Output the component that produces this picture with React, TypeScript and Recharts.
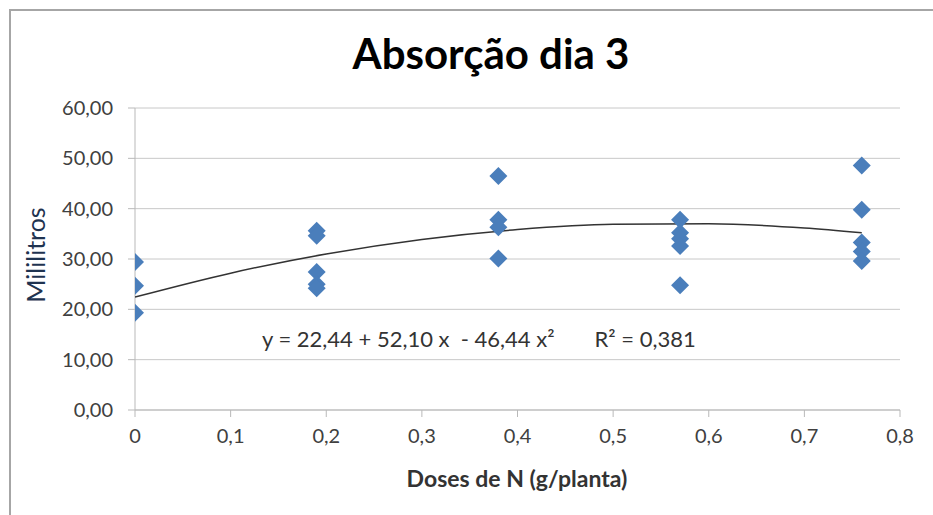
import React from "react";
import { ScatterChart, Scatter, XAxis, YAxis, CartesianGrid } from "recharts";

// Observações (dose de N em g/planta, absorção em mL)
const DOSES = [0, 0.19, 0.38, 0.57, 0.76];
const ABS_0 = [29.4, 24.7, 19.3];
const ABS_019 = [35.6, 34.6, 27.4, 25.0, 24.2];
const ABS_038 = [46.5, 37.8, 36.3, 30.1];
const ABS_057 = [37.8, 35.2, 34.0, 32.6, 24.8];
const ABS_076 = [48.6, 39.8, 33.3, 31.5, 29.6];

// linha de tendência
const TREND_X = [0, 0.1, 0.2, 0.3, 0.4, 0.5, 0.6, 0.7, 0.76];
const TREND_Y = [22.44, 27.19, 31.0, 33.89, 35.85, 36.88, 36.98, 36.15, 35.21];

const X_TICKS = [0, 0.1, 0.2, 0.3, 0.4, 0.5, 0.6, 0.7, 0.8];
const Y_TICKS = [0, 10, 20, 30, 40, 50, 60];

const EQUATION = "y = 22,44 + 52,10 x  - 46,44 x²";
const R2 = "R² = 0,381";

const points = [ABS_0, ABS_019, ABS_038, ABS_057, ABS_076].flatMap((vals, i) =>
  vals.map((v) => ({ x: DOSES[i], y: v }))
);
const trend = TREND_X.map((x, i) => ({ x, y: TREND_Y[i] }));

const FONT = "Lato, 'Open Sans', sans-serif";
const GRAY = "#b9b9b9";
const BLUE = "#4a7ebb";

function Diamond(props: any) {
  const { cx, cy } = props;
  const r = 9;
  return (
    <polygon
      points={`${cx},${cy - r} ${cx + r},${cy} ${cx},${cy + r} ${cx - r},${cy}`}
      fill={BLUE}
    />
  );
}

const tickStyle = { fontSize: 20, fill: "#404040", fontFamily: FONT };

export default function App() {
  return (
    <div
      style={{
        position: "absolute",
        left: 0,
        top: 0,
        width: 933,
        height: 515,
        background: "#fff",
        overflow: "hidden",
        fontFamily: FONT,
        lineHeight: 1.2,
      }}
    >
      <div
        style={{
          position: "absolute",
          left: 9,
          top: 9,
          width: 940,
          height: 520,
          borderLeft: "2px solid #a6a6a6",
          borderTop: "2px solid #a6a6a6",
        }}
      />
      <div
        style={{
          position: "absolute",
          left: 0,
          top: 28,
          width: 982,
          textAlign: "center",
          fontSize: 42,
          fontWeight: 700,
          color: "#000",
        }}
      >
        Absorção dia 3
      </div>
      <div style={{ position: "absolute", left: 0, top: 0 }}>
        <ScatterChart
          width={933}
          height={515}
          margin={{ top: 108, right: 33, bottom: 75, left: 45 }}
        >
          <CartesianGrid horizontal vertical={false} stroke="#c8c8c8" />
          <XAxis
            type="number"
            dataKey="x"
            domain={[0, 0.8]}
            ticks={X_TICKS}
            height={30}
            tickSize={7}
            tickMargin={12}
            stroke={GRAY}
            tick={tickStyle}
            tickFormatter={(v: number) => String(v).replace(".", ",")}
            allowDataOverflow
          />
          <YAxis
            type="number"
            dataKey="y"
            domain={[0, 60]}
            ticks={Y_TICKS}
            width={90}
            tickSize={7}
            tickMargin={15}
            stroke={GRAY}
            tick={tickStyle}
            tickFormatter={(v: number) => v.toFixed(2).replace(".", ",")}
          />
          <Scatter
            data={trend}
            line={{ stroke: "#333", strokeWidth: 1.5 }}
            lineJointType="monotoneX"
            shape={() => null}
            isAnimationActive={false}
          />
          <Scatter data={points} shape={Diamond} isAnimationActive={false} />
        </ScatterChart>
      </div>
      <div
        style={{
          position: "absolute",
          left: 35,
          top: 255,
          transform: "translate(-50%, -50%) rotate(-90deg)",
          fontSize: 25,
          color: "#1f3350",
          whiteSpace: "nowrap",
        }}
      >
        Mililitros
      </div>
      <div
        style={{
          position: "absolute",
          left: 262,
          top: 326,
          fontSize: 22,
          color: "#333",
          whiteSpace: "pre",
        }}
      >
        {EQUATION}
        <span style={{ marginLeft: 40 }}>{R2}</span>
      </div>
      <div
        style={{
          position: "absolute",
          left: 0,
          top: 465,
          width: 1034,
          textAlign: "center",
          fontSize: 23,
          fontWeight: 700,
          color: "#333",
        }}
      >
        Doses de N (g/planta)
      </div>
    </div>
  );
}
